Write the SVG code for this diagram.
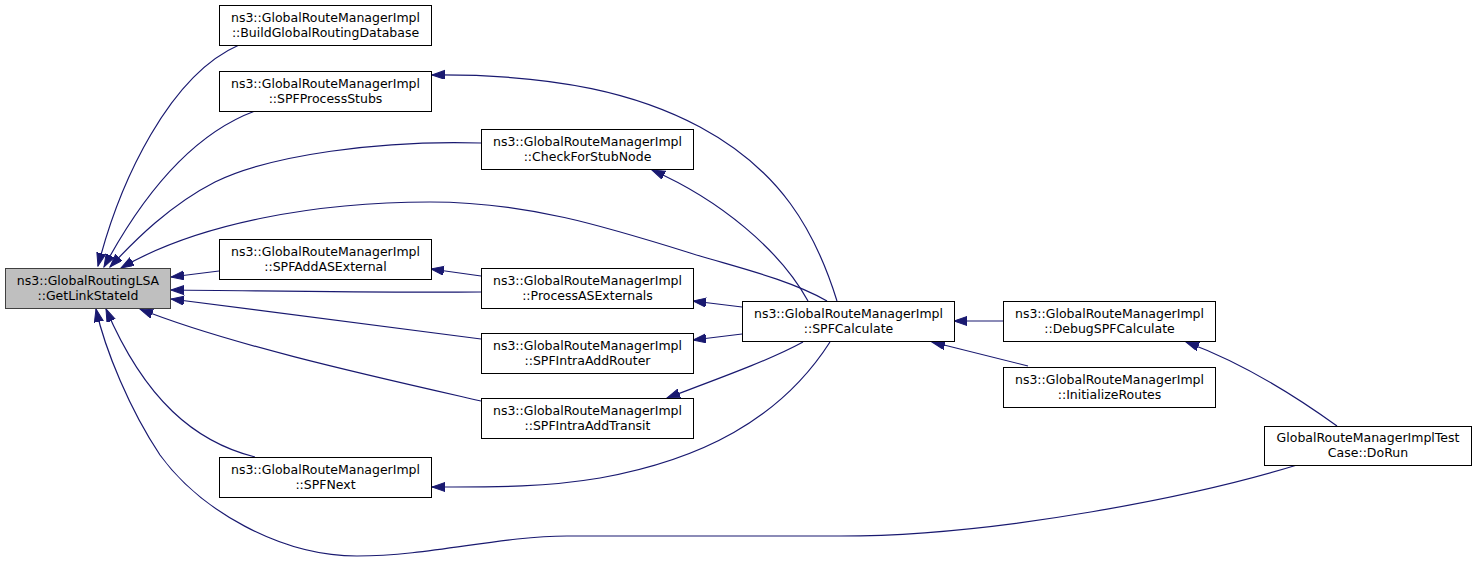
<svg xmlns="http://www.w3.org/2000/svg" width="1477" height="563" viewBox="0 0 1477 563">
<style>
.n rect{fill:#ffffff;stroke:#000000;stroke-width:1}
.root rect{fill:#bfbfbf;stroke:#404040;stroke-width:1}
text{font-family:"DejaVu Sans","Liberation Sans",sans-serif;font-size:12.5px;fill:#000000;text-anchor:middle}
.e path{fill:none;stroke:#191970;stroke-width:1.2;marker-end:url(#ah)}
</style>
<defs>
<marker id="ah" markerUnits="userSpaceOnUse" markerWidth="14" markerHeight="10" refX="13" refY="4.5" orient="auto">
<path d="M0,0 L13,4.5 L0,9 Z" fill="#191970" stroke="#191970" stroke-width="1"/>
</marker>
</defs>
<rect width="1477" height="563" fill="#ffffff"/>
<g class="e" id="edges">
<path d="M239,45 C170,75 120,180 98,266"/>
<path d="M255,111 C190,135 140,200 104,267"/>
<path d="M481,143 C380,140 270,155 215,182 C170,205 135,240 110,267"/>
<path d="M827,301 C790,280 740,268 700,256 C610,228 530,202 430,202 C320,202 200,222 121,268"/>
<path d="M219,271 L171,277"/>
<path d="M481,292 C380,293 280,291 171,290"/>
<path d="M481,339 L171,299"/>
<path d="M481,401 C380,378 230,345 140,309"/>
<path d="M255,457 C195,442 145,400 106,309"/>
<path d="M1297,465 C1200,495 1000,536 840,536 L567,536 C500,536 430,556 357,556 C280,556 200,510 160,455 C130,410 105,350 96,309"/>
<path d="M837,301 C815,230 780,170 700,127 C640,95 560,74 432,75"/>
<path d="M808,301 C780,250 720,200 652,170"/>
<path d="M481,276 L431,269"/>
<path d="M742,307 L693,301"/>
<path d="M742,334 L693,340"/>
<path d="M803,342 C770,360 720,378 667,398"/>
<path d="M830,342 C780,420 700,460 600,478 C540,488 490,487 432,487"/>
<path d="M1003,321 L954,321"/>
<path d="M1028,366 L932,342"/>
<path d="M1337,426 C1290,392 1240,362 1186,342"/>
</g>
<g class="n root" id="node_GetLinkStateId">
<rect x="5.5" y="268.5" width="165" height="40"/>
<text x="88" y="284.5">ns3::GlobalRoutingLSA</text>
<text x="88" y="299.5">::GetLinkStateId</text>
</g>
<g class="n" id="node_BuildGlobalRoutingDatabase">
<rect x="219.5" y="5.5" width="212" height="40"/>
<text x="325.5" y="21.5">ns3::GlobalRouteManagerImpl</text>
<text x="325.5" y="36.5">::BuildGlobalRoutingDatabase</text>
</g>
<g class="n" id="node_SPFProcessStubs">
<rect x="219.5" y="71.5" width="212" height="40"/>
<text x="325.5" y="87.5">ns3::GlobalRouteManagerImpl</text>
<text x="325.5" y="102.5">::SPFProcessStubs</text>
</g>
<g class="n" id="node_SPFAddASExternal">
<rect x="219.5" y="239.5" width="212" height="40"/>
<text x="325.5" y="255.5">ns3::GlobalRouteManagerImpl</text>
<text x="325.5" y="270.5">::SPFAddASExternal</text>
</g>
<g class="n" id="node_SPFNext">
<rect x="219.5" y="457.5" width="212" height="40"/>
<text x="325.5" y="473.5">ns3::GlobalRouteManagerImpl</text>
<text x="325.5" y="488.5">::SPFNext</text>
</g>
<g class="n" id="node_CheckForStubNode">
<rect x="481.5" y="129.5" width="212" height="40"/>
<text x="587.5" y="145.5">ns3::GlobalRouteManagerImpl</text>
<text x="587.5" y="160.5">::CheckForStubNode</text>
</g>
<g class="n" id="node_ProcessASExternals">
<rect x="481.5" y="268.5" width="212" height="40"/>
<text x="587.5" y="284.5">ns3::GlobalRouteManagerImpl</text>
<text x="587.5" y="299.5">::ProcessASExternals</text>
</g>
<g class="n" id="node_SPFIntraAddRouter">
<rect x="481.5" y="333.5" width="212" height="40"/>
<text x="587.5" y="349.5">ns3::GlobalRouteManagerImpl</text>
<text x="587.5" y="364.5">::SPFIntraAddRouter</text>
</g>
<g class="n" id="node_SPFIntraAddTransit">
<rect x="481.5" y="398.5" width="212" height="40"/>
<text x="587.5" y="414.5">ns3::GlobalRouteManagerImpl</text>
<text x="587.5" y="429.5">::SPFIntraAddTransit</text>
</g>
<g class="n" id="node_SPFCalculate">
<rect x="742.5" y="301.5" width="212" height="40"/>
<text x="848.5" y="317.5">ns3::GlobalRouteManagerImpl</text>
<text x="848.5" y="332.5">::SPFCalculate</text>
</g>
<g class="n" id="node_DebugSPFCalculate">
<rect x="1003.5" y="301.5" width="212" height="40"/>
<text x="1109.5" y="317.5">ns3::GlobalRouteManagerImpl</text>
<text x="1109.5" y="332.5">::DebugSPFCalculate</text>
</g>
<g class="n" id="node_InitializeRoutes">
<rect x="1003.5" y="367.5" width="212" height="40"/>
<text x="1109.5" y="383.5">ns3::GlobalRouteManagerImpl</text>
<text x="1109.5" y="398.5">::InitializeRoutes</text>
</g>
<g class="n" id="node_DoRun">
<rect x="1264.5" y="426.5" width="207" height="39"/>
<text x="1368" y="442">GlobalRouteManagerImplTest</text>
<text x="1368" y="457">Case::DoRun</text>
</g>
</svg>
